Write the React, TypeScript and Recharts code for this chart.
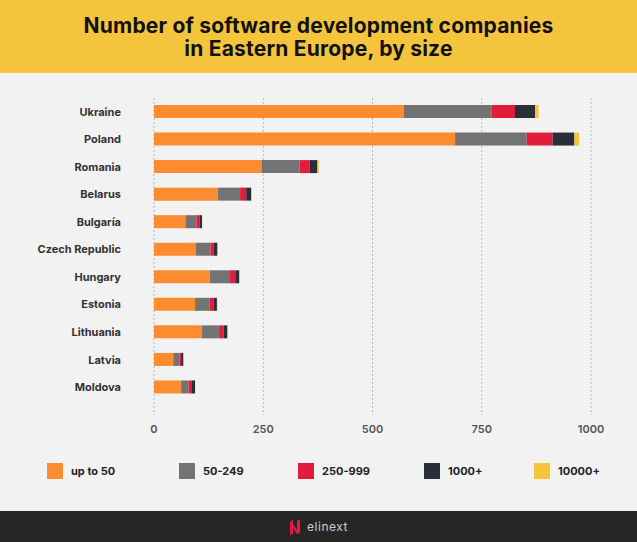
import React from "react";
import { BarChart, Bar, XAxis, YAxis, CartesianGrid } from "recharts";

const countries = [
  "Ukraine",
  "Poland",
  "Romania",
  "Belarus",
  "Bulgaría",
  "Czech Republic",
  "Hungary",
  "Estonia",
  "Lithuania",
  "Latvia",
  "Moldova",
];
const upTo50 = [571, 689, 246, 146, 72, 95, 128, 94, 110, 44, 62];
const from50 = [201, 164, 87, 51, 25, 34, 46, 33, 39, 14, 17];
const from250 = [54, 59, 23, 14, 8, 8, 12, 9, 10, 4, 8];
const from1000 = [46, 50, 18, 11, 5, 8, 9, 8, 9, 5, 7];
const from10000 = [8, 11, 3, 2, 0, 1, 1, 1, 1, 0, 0];
const xTicks = [0, 250, 500, 750, 1000];

const seriesNames = ["up to 50", "50-249", "250-999", "1000+", "10000+"];
const seriesColors = ["#FD8B2F", "#737373", "#E31B3D", "#2A2E38", "#F4C43D"];
const legendX = [47, 179, 298, 424, 534];

const data = countries.map((country, i) => ({
  country,
  s0: upTo50[i],
  s1: from50[i],
  s2: from250[i],
  s3: from1000[i],
  s4: from10000[i],
}));

const font = "Inter, 'Open Sans', sans-serif";

const App: React.FC = () => {
  return (
    <div
      style={{
        position: "absolute",
        left: 0,
        top: 0,
        width: 637,
        height: 542,
        background: "#F2F2F2",
        overflow: "hidden",
        fontFamily: font,
      }}
    >
      <div
        style={{
          position: "absolute",
          left: 0,
          top: 0,
          width: 637,
          height: 73,
          background: "#F4C43D",
          display: "flex",
          alignItems: "center",
          justifyContent: "center",
          textAlign: "center",
          fontWeight: 700,
          fontSize: 21,
          letterSpacing: 0.2,
          lineHeight: "23px",
          color: "#111",
        }}
      >
        <div>
          Number of software development companies
          <br />
          in Eastern Europe, by size
        </div>
      </div>

      <div style={{ position: "absolute", left: 0, top: 0 }}>
        <BarChart
          layout="vertical"
          width={637}
          height={450}
          data={data}
          margin={{ top: 98, right: 46, left: 0, bottom: 0 }}
          barSize={13}
        >
          <CartesianGrid horizontal={false} strokeDasharray="2 2" stroke="#b5b5b5" />
          <XAxis
            type="number"
            domain={[0, 1000]}
            ticks={xTicks}
            axisLine={false}
            tickLine={false}
            height={35}
            tickMargin={4}
            tick={{ fill: "#555", fontSize: 11, fontWeight: 600, fontFamily: font }}
          />
          <YAxis
            type="category"
            dataKey="country"
            width={154}
            axisLine={false}
            tickLine={false}
            tickMargin={27}
            padding={{ top: 0, bottom: 14 }}
            tick={{ fill: "#333", fontSize: 11, fontWeight: 700, fontFamily: font }}
          />
          {seriesColors.map((c, i) => (
            <Bar
              key={i}
              dataKey={`s${i}`}
              name={seriesNames[i]}
              stackId="a"
              fill={c}
              isAnimationActive={false}
            />
          ))}
        </BarChart>
      </div>

      {seriesNames.map((name, i) => (
        <div
          key={name}
          style={{
            position: "absolute",
            left: legendX[i],
            top: 463,
            height: 16,
            display: "flex",
            alignItems: "center",
            fontSize: 11,
            fontWeight: 700,
            color: "#222",
            whiteSpace: "nowrap",
          }}
        >
          <span
            style={{
              display: "inline-block",
              width: 16,
              height: 16,
              background: seriesColors[i],
              marginRight: 8,
            }}
          />
          {name}
        </div>
      ))}

      <div
        style={{
          position: "absolute",
          left: 0,
          top: 511,
          width: 637,
          height: 31,
          background: "#262626",
          display: "flex",
          alignItems: "center",
          justifyContent: "center",
        }}
      >
        <svg width={12} height={18} viewBox="0 0 12 18" style={{ marginRight: 6 }}>
          <path d="M1 4 L4 2 L4 16 L1 17 Z" fill="#E31B3D" />
          <path d="M4 6 L8 12 L8 3 L11 1 L11 15 L8 16 L4 10 Z" fill="#E31B3D" />
        </svg>
        <span style={{ color: "#ccc", fontSize: 12, letterSpacing: 0.5 }}>elinext</span>
      </div>
    </div>
  );
};

export default App;
